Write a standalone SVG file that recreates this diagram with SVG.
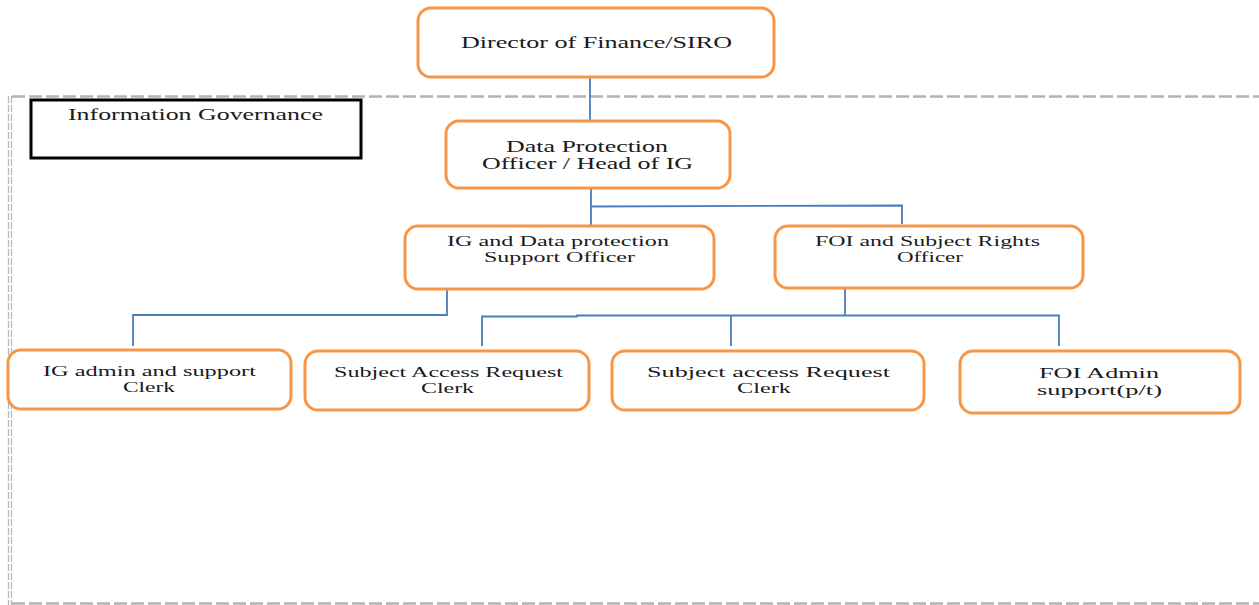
<svg xmlns="http://www.w3.org/2000/svg" width="1259" height="605" viewBox="0 0 1259 605">
<style>
.box{fill:#fff;stroke:#f79646;stroke-width:3}
.t{font-family:"Liberation Serif","Times New Roman",serif;font-size:17px;fill:#1a1a1a}
.s{font-size:15.5px}
.c{fill:none;stroke:#4a7ebb;stroke-width:1.8}
.frame{fill:none;stroke:#b4b4b4;stroke-width:2.5;stroke-dasharray:13 4}
</style>
<rect width="1259" height="605" fill="#fff"/>
<g id="frame">
<path class="frame" d="M12 96.5 H1262"/>
<path class="frame" d="M12 603.5 H1262" stroke="#cfcfcf"/>
<path d="M8.5 96 V605 M11.5 96 V605" fill="none" stroke="#b8b8c0" stroke-width="1.3" stroke-dasharray="7 2"/>
</g>
<g id="ig-label">
<rect x="31" y="100" width="330" height="58" fill="#fff" stroke="#000" stroke-width="3"/>
<text class="t" x="68" y="120" textLength="255" lengthAdjust="spacingAndGlyphs">Information Governance</text>
</g>
<g id="connectors">
<path class="c" d="M590 77 V120"/>
<path class="c" d="M591 189 V225"/>
<path class="c" d="M591 206.5 L902 205.5 V224"/>
<path class="c" d="M447 290 V315 H133 V346"/>
<path class="c" d="M845 289 V316"/>
<path class="c" d="M482 346 V316.5 H577 L577 315.5 H1059 V346"/>
<path class="c" d="M731 316 V346"/>
</g>
<g id="director">
<rect class="box" x="418" y="8" width="356" height="69" rx="13"/>
<text class="t" x="461" y="48" textLength="271" lengthAdjust="spacingAndGlyphs">Director of Finance/SIRO</text>
</g>
<g id="dpo">
<rect class="box" x="446" y="121" width="284" height="67" rx="13"/>
<text class="t" x="506" y="152" textLength="162" lengthAdjust="spacingAndGlyphs">Data Protection</text>
<text class="t" x="482" y="169" textLength="211" lengthAdjust="spacingAndGlyphs">Officer / Head of IG</text>
</g>
<g id="ig-dp-support">
<rect class="box" x="405" y="226" width="309" height="63" rx="13"/>
<text class="t s" x="447" y="246" textLength="222" lengthAdjust="spacingAndGlyphs">IG and Data protection</text>
<text class="t s" x="484" y="262" textLength="151" lengthAdjust="spacingAndGlyphs">Support Officer</text>
</g>
<g id="foi-sr-officer">
<rect class="box" x="775" y="226" width="308" height="62" rx="13"/>
<text class="t s" x="815" y="246" textLength="225" lengthAdjust="spacingAndGlyphs">FOI and Subject Rights</text>
<text class="t s" x="897" y="262" textLength="66" lengthAdjust="spacingAndGlyphs">Officer</text>
</g>
<g id="ig-admin">
<rect class="box" x="8" y="350" width="283" height="59" rx="13"/>
<text class="t s" x="43" y="376" textLength="213" lengthAdjust="spacingAndGlyphs">IG admin and support</text>
<text class="t s" x="123" y="392" textLength="52" lengthAdjust="spacingAndGlyphs">Clerk</text>
</g>
<g id="sar-clerk-1">
<rect class="box" x="305" y="351" width="284" height="59" rx="13"/>
<text class="t s" x="334" y="377" textLength="229" lengthAdjust="spacingAndGlyphs">Subject Access Request</text>
<text class="t s" x="421" y="393" textLength="53" lengthAdjust="spacingAndGlyphs">Clerk</text>
</g>
<g id="sar-clerk-2">
<rect class="box" x="612" y="351" width="312" height="59" rx="13"/>
<text class="t s" x="647" y="377" textLength="243" lengthAdjust="spacingAndGlyphs">Subject access Request</text>
<text class="t s" x="737" y="393" textLength="54" lengthAdjust="spacingAndGlyphs">Clerk</text>
</g>
<g id="foi-admin">
<rect class="box" x="960" y="351" width="280" height="62" rx="13"/>
<text class="t s" x="1039" y="378" textLength="120" lengthAdjust="spacingAndGlyphs">FOI Admin</text>
<text class="t s" x="1037" y="395" textLength="125" lengthAdjust="spacingAndGlyphs">support(p/t)</text>
</g>
</svg>
